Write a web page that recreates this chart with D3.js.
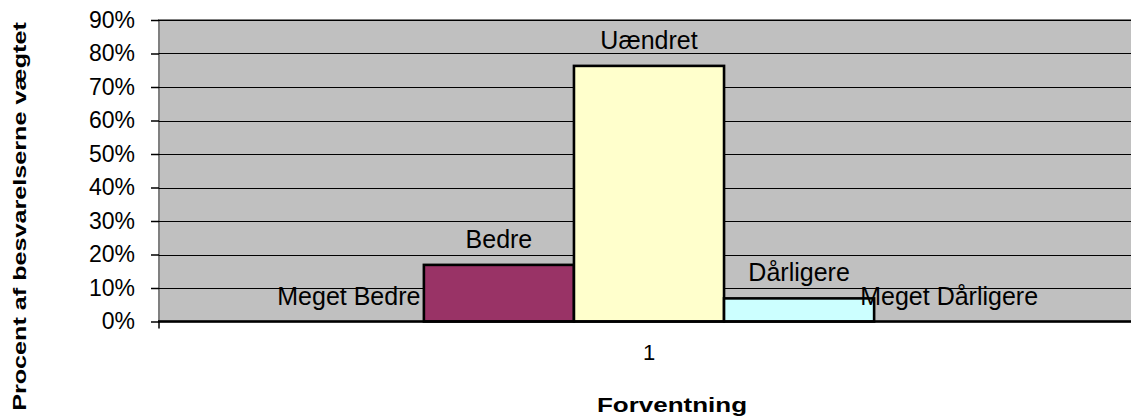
<!DOCTYPE html>
<html>
<head>
<meta charset="utf-8">
<script src="https://cdn.jsdelivr.net/npm/d3@7"></script>
<style>
  body { margin: 0; background: #fff; }
  svg text { font-family: "Liberation Sans", Arial, sans-serif; fill: #000; }
</style>
</head>
<body>
<script>
// chart data
var categories = ["1"];
var seriesNames = ["Meget Bedre", "Bedre", "Uændret", "Dårligere", "Meget Dårligere"];
var seriesValues = [0, 0.169, 0.763, 0.069, 0];
var seriesColors = ["#9999FF", "#993366", "#FFFFCC", "#CCFFFF", "#660066"];
var yTicks = [0, 0.1, 0.2, 0.3, 0.4, 0.5, 0.6, 0.7, 0.8, 0.9];

var width = 1131,
  height = 418;

// plot area (it runs past the right edge of the picture, as in the original)
var plotLeft = 159, plotRight = 1139, plotTop = 20, plotBottom = 321.5;

var svg = d3.select("body").append("svg")
  .attr("width", width)
  .attr("height", height);

var x0 = d3.scaleBand()
  .domain(categories)
  .range([plotLeft, plotRight])
  .paddingInner(0)
  .paddingOuter(0.153);

var x1 = d3.scaleBand()
  .domain(seriesNames)
  .range([0, x0.bandwidth()])
  .padding(0);

var y = d3.scaleLinear()
  .domain([0, 0.9])
  .range([plotBottom, plotTop]);

// plot background
svg.append("rect")
  .attr("x", plotLeft)
  .attr("y", plotTop)
  .attr("width", plotRight - plotLeft)
  .attr("height", plotBottom - plotTop)
  .attr("fill", "#C0C0C0")
  .attr("stroke", "#808080")
  .attr("stroke-width", 2);

// gridlines
svg.append("g")
  .selectAll("line")
  .data(yTicks.slice(1))
  .enter().append("line")
  .attr("x1", plotLeft)
  .attr("x2", plotRight)
  .attr("y1", function(d) { return Math.round(y(d)) + 0.5; })
  .attr("y2", function(d) { return Math.round(y(d)) + 0.5; })
  .attr("stroke", "#000")
  .attr("stroke-width", 1);

// y axis
var yAxis = d3.axisLeft(y)
  .tickValues(yTicks)
  .tickSize(8)
  .tickPadding(16)
  .tickFormat(d3.format(".0%"));

var gy = svg.append("g")
  .attr("transform", "translate(" + plotLeft + ",0)")
  .call(yAxis);
gy.select(".domain").remove();
gy.selectAll(".tick line").attr("stroke", "#000").attr("stroke-width", 1.5);
gy.selectAll(".tick text")
  .attr("font-size", 23)
  .attr("font-family", '"Liberation Sans", Arial, sans-serif')
  .attr("fill", "#000");

// bars
var group = svg.append("g")
  .selectAll("g")
  .data(categories)
  .enter().append("g")
  .attr("transform", function(d) { return "translate(" + x0(d) + ",0)"; });

var rows = seriesNames.map(function(n, i) {
  return { name: n, value: seriesValues[i], color: seriesColors[i] };
});

group.selectAll("rect")
  .data(rows)
  .enter().append("rect")
  .attr("x", function(d) { return x1(d.name); })
  .attr("y", function(d) { return y(d.value); })
  .attr("width", x1.bandwidth())
  .attr("height", function(d) { return y(0) - y(d.value); })
  .attr("fill", function(d) { return d.color; })
  .attr("stroke", "#000")
  .attr("stroke-width", 2.6);

// data labels (series names above bars)
group.selectAll("text")
  .data(rows)
  .enter().append("text")
  .attr("x", function(d) { return x1(d.name) + x1.bandwidth() / 2; })
  .attr("y", function(d) { return y(d.value) - 17; })
  .attr("text-anchor", "middle")
  .attr("font-size", 25)
  .text(function(d) { return d.name; });

// x axis
var xAxis = d3.axisBottom(x0).tickSize(0).tickPadding(23);
var gx = svg.append("g")
  .attr("transform", "translate(0," + plotBottom + ")")
  .call(xAxis);
gx.select(".domain").remove();
gx.selectAll(".tick text")
  .attr("font-size", 22)
  .attr("font-family", '"Liberation Sans", Arial, sans-serif')
  .attr("fill", "#000");

svg.append("line")
  .attr("x1", plotLeft - 1)
  .attr("x2", plotRight)
  .attr("y1", plotBottom)
  .attr("y2", plotBottom)
  .attr("stroke", "#000")
  .attr("stroke-width", 2.5);

svg.append("line")
  .attr("x1", plotLeft)
  .attr("x2", plotLeft)
  .attr("y1", plotBottom)
  .attr("y2", plotBottom + 7)
  .attr("stroke", "#000")
  .attr("stroke-width", 1.5);

// axis titles
svg.append("text")
  .attr("transform", "translate(672,412) scale(1.3,1)")
  .attr("text-anchor", "middle")
  .attr("font-size", 20)
  .attr("font-weight", "bold")
  .text("Forventning");

svg.append("text")
  .attr("transform", "translate(26,216.5) rotate(-90) scale(1.36,1)")
  .attr("text-anchor", "middle")
  .attr("font-size", 18.5)
  .attr("font-weight", "bold")
  .text("Procent af besvarelserne vægtet");
</script>
</body>
</html>
